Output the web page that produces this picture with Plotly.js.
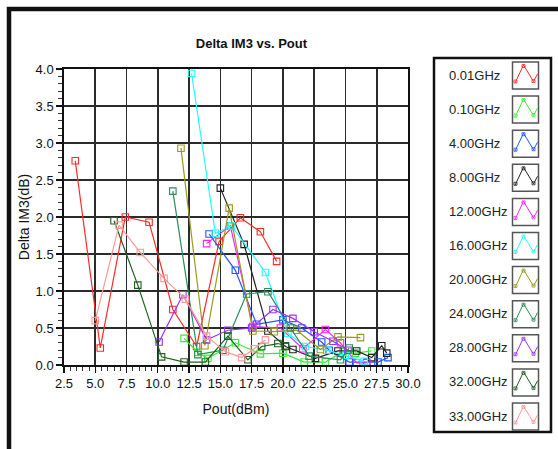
<!DOCTYPE html>
<html>
<head>
<meta charset="utf-8">
<script src="https://cdn.plot.ly/plotly-3.0.1.min.js"></script>
<style>html,body{margin:0;padding:0;background:#fff;}#chart{width:558px;height:449px;}</style>
</head>
<body>
<div id="chart"></div>
<script>
// ---- data ----
const freqLabels = ['0.01GHz','0.10GHz','4.00GHz','8.00GHz','12.00GHz','16.00GHz','20.00GHz','24.00GHz','28.00GHz','32.00GHz','33.00GHz'];
const seriesColors = ['#ff2a2a','#33ee33','#2255ff','#222222','#ff22ff','#22ffff','#9a9a20','#2e8b57','#9933ff','#1f5f1f','#ff9999'];

const pout_001 = [3.4,5.4,7.4,9.3,11.2,13.1,14.9,16.6,18.2,19.5];
const dim3_001 = [2.76,0.23,2.0,1.93,0.75,0.25,1.67,1.99,1.80,1.40];
const pout_010 = [12.1,13.2,14.0,16.2,18.2,20.0,21.7,23.4,24.8,25.8,27.1];
const dim3_010 = [0.36,0.17,0.09,0.30,0.15,0.16,0.04,0.04,0.18,0.16,0.19];
const pout_4 = [14.1,16.2,17.9,20.0,21.5,23.1,23.7,25.3,26.7,27.6,28.4];
const dim3_4 = [1.77,1.28,0.55,0.61,0.50,0.31,0.20,0.04,0.04,0.04,0.10];
const pout_8 = [15.0,16.9,18.8,20.2,20.8,22.6,24.4,25.9,27.1,27.9,28.3];
const dim3_8 = [2.39,1.63,0.46,0.25,0.21,0.09,0.19,0.19,0.10,0.26,0.16];
const pout_12 = [13.9,15.8,17.6,19.8,21.6,23.4,24.6,25.9,26.7];
const dim3_12 = [1.64,1.88,0.52,0.50,0.22,0.48,0.30,0.03,0.03];
const pout_16 = [12.7,14.6,15.9,18.6,20.4,21.8,23.5,25.0,26.5];
const dim3_16 = [3.94,1.78,1.88,1.25,0.43,0.25,0.20,0.13,0.05];
const pout_20 = [11.85,13.76,15.7,17.6,19.3,21.1,23.0,24.4,26.2];
const dim3_20 = [2.93,0.26,2.12,0.46,0.45,0.47,0.21,0.38,0.37];
const pout_24 = [11.2,13.2,15.2,17.1,18.8,20.6,22.1,24.6,25.3];
const dim3_24 = [2.35,0.14,0.20,0.96,0.99,0.50,0.12,0.07,0.23];
const pout_28 = [10.1,12.0,13.9,15.6,17.5,19.2,20.8,22.5,24.0,25.2];
const dim3_28 = [0.31,0.95,0.34,0.47,0.50,0.75,0.63,0.45,0.32,0.20];
const pout_32 = [6.5,8.4,10.3,12.1,13.8,15.6,17.2,18.3,19.6,20.2];
const dim3_32 = [1.95,1.08,0.11,0.04,0.04,0.39,0.07,0.25,0.29,0.26];
const pout_33 = [5.0,6.9,8.6,10.5,12.2,13.9,15.4,16.7,17.7,18.6];
const dim3_33 = [0.60,1.89,1.52,1.17,0.89,0.39,0.18,0.10,0.22,0.34];

const allX = [pout_001,pout_010,pout_4,pout_8,pout_12,pout_16,pout_20,pout_24,pout_28,pout_32,pout_33];
const allY = [dim3_001,dim3_010,dim3_4,dim3_8,dim3_12,dim3_16,dim3_20,dim3_24,dim3_28,dim3_32,dim3_33];

// ---- layout geometry ----
const W = 558, H = 449;
const L = 64, R = 408, T = 69, B = 365;
const px = x => (x - L) / (R - L);
const py = y => (B - y) / (B - T);

const traces = allX.map((xs, i) => ({
  x: xs, y: allY[i], type: 'scatter', mode: 'lines+markers', name: freqLabels[i],
  line: {color: seriesColors[i], width: 1.2},
  marker: {symbol: 'square-open', size: 6.5, color: seriesColors[i], line: {width: 1.1, color: seriesColors[i]}},
  showlegend: false, cliponaxis: true
}));

const shapes = [];
const annotations = [];

// outer frame
shapes.push({type: 'path', xref: 'paper', yref: 'paper',
  path: `M ${px(9)} ${py(452)} L ${px(9)} ${py(9)} L ${px(560)} ${py(9)}`,
  line: {color: '#111', width: 4.5}});

// legend box
shapes.push({type: 'rect', xref: 'paper', yref: 'paper',
  x0: px(434), x1: px(551), y0: py(58), y1: py(432),
  line: {color: '#111', width: 2.5}, fillcolor: 'rgba(0,0,0,0)'});

const fam = 'Liberation Sans Narrow, Liberation Sans, Arial';

freqLabels.forEach((lab, i) => {
  const cy = 75 + 34.1 * i;
  annotations.push({xref: 'paper', yref: 'paper', x: px(447), y: py(cy), xanchor: 'left', yanchor: 'middle',
    text: lab, showarrow: false, font: {family: fam, size: 13, color: '#222'}});
  const bx = 512.5, by = cy - 13;
  shapes.push({type: 'rect', xref: 'paper', yref: 'paper',
    x0: px(bx), x1: px(bx + 26), y0: py(by), y1: py(by + 27),
    line: {color: '#555', width: 1.5}, fillcolor: '#fff'});
  const pts = [[2.5, 21], [11, 3], [21, 19.5], [25, 12]];
  shapes.push({type: 'path', xref: 'paper', yref: 'paper',
    path: pts.map((p, k) => (k ? 'L ' : 'M ') + px(bx + p[0]) + ' ' + py(by + p[1])).join(' '),
    line: {color: seriesColors[i], width: 1}});
  [[3, 19.5], [11, 4], [21, 19]].forEach(m => {
    shapes.push({type: 'rect', xref: 'paper', yref: 'paper',
      x0: px(bx + m[0] - 1.5), x1: px(bx + m[0] + 1.5), y0: py(by + m[1] - 1.5), y1: py(by + m[1] + 1.5),
      line: {color: seriesColors[i], width: 0.8}, fillcolor: 'rgba(0,0,0,0)'});
  });
});

const tickFont = {family: fam, size: 13, color: '#111'};

const layout = {
  width: W, height: H,
  margin: {l: L, r: W - R, t: T, b: H - B, pad: 0},
  paper_bgcolor: '#fff', plot_bgcolor: '#fff',
  showlegend: false,
  title: {text: '<b>Delta IM3 vs. Pout</b>', x: px(219), xanchor: 'center', y: 1 - 43 / H, yanchor: 'middle',
    font: {family: fam, size: 13, color: '#111'}},
  xaxis: {
    range: [2.5, 30], tick0: 2.5, dtick: 2.5, tickformat: '.1f',
    showgrid: true, gridcolor: '#2b2b2b', gridwidth: 1.7,
    showline: true, linecolor: '#111', linewidth: 1.7, mirror: true,
    ticks: 'outside', ticklen: 6, tickwidth: 1.2, tickcolor: '#111',
    minor: {dtick: 0.5, ticks: 'outside', ticklen: 4, tickwidth: 1, tickcolor: '#333', showgrid: false},
    zeroline: false, tickfont: tickFont,
    title: {text: 'Pout(dBm)', standoff: 14, font: {family: fam, size: 14, color: '#111'}}
  },
  yaxis: {
    range: [0, 4], tick0: 0, dtick: 0.5, tickformat: '.1f',
    showgrid: true, gridcolor: '#2b2b2b', gridwidth: 1.7,
    showline: true, linecolor: '#111', linewidth: 1.7, mirror: true,
    ticks: 'outside', ticklen: 6, tickwidth: 1.2, tickcolor: '#111',
    minor: {dtick: 0.1, ticks: 'outside', ticklen: 4, tickwidth: 1, tickcolor: '#333', showgrid: false},
    zeroline: false, tickfont: tickFont,
    title: {text: 'Delta IM3(dB)', standoff: 3, font: {family: fam, size: 14, color: '#111'}}
  },
  shapes: shapes,
  annotations: annotations
};

Plotly.newPlot('chart', traces, layout, {staticPlot: true, displayModeBar: false});
</script>
</body>
</html>
